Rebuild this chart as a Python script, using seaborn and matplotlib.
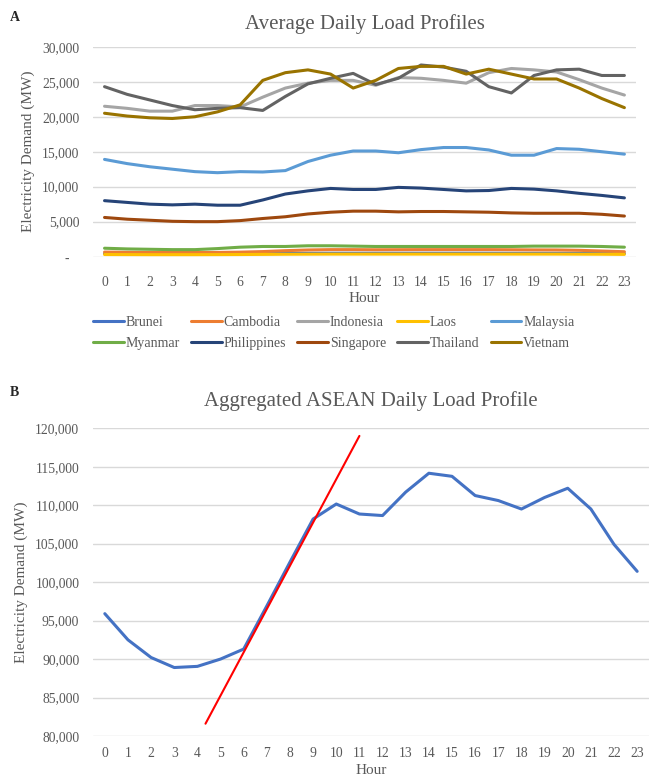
import numpy as np
import pandas as pd
import seaborn as sns
import matplotlib.pyplot as plt
from matplotlib.ticker import FuncFormatter

# ---- data ----
hours = list(range(24))
countries = ['Brunei', 'Cambodia', 'Indonesia', 'Laos', 'Malaysia',
             'Myanmar', 'Philippines', 'Singapore', 'Thailand', 'Vietnam']

brunei = [420, 410, 400, 400, 400, 400, 410, 430, 450, 470, 480, 480,
          480, 480, 480, 480, 480, 480, 470, 470, 470, 460, 450, 440]
cambodia = [650, 620, 600, 590, 590, 600, 640, 720, 850, 950, 1000, 1000,
            980, 990, 1000, 1000, 1000, 1000, 980, 960, 950, 900, 800, 700]
indonesia = [21500, 21200, 20800, 20800, 21600, 21600, 21400, 22800, 24100, 24800, 25200, 25200,
             24500, 25600, 25500, 25200, 24800, 26300, 26900, 26700, 26400, 25300, 24100, 23100]
laos = [300, 290, 280, 280, 280, 290, 300, 320, 340, 350, 360, 360,
        360, 360, 360, 360, 360, 360, 360, 360, 360, 350, 340, 320]
malaysia = [13900, 13300, 12850, 12500, 12150, 12000, 12150, 12100, 12300, 13600, 14500, 15100,
            15100, 14850, 15300, 15600, 15600, 15250, 14500, 14500, 15450, 15350, 15000, 14650]
myanmar = [1200, 1100, 1050, 1000, 1000, 1150, 1350, 1450, 1450, 1550, 1550, 1500,
           1450, 1450, 1450, 1450, 1450, 1450, 1450, 1500, 1500, 1500, 1450, 1350]
philippines = [8000, 7750, 7500, 7400, 7500, 7350, 7350, 8100, 8950, 9400, 9750, 9600,
               9600, 9900, 9800, 9600, 9400, 9450, 9750, 9650, 9400, 9050, 8750, 8400]
singapore = [5600, 5350, 5200, 5050, 5000, 5000, 5150, 5450, 5700, 6100, 6350, 6500,
             6500, 6400, 6450, 6450, 6400, 6350, 6250, 6200, 6200, 6200, 6050, 5800]
thailand = [24300, 23200, 22400, 21600, 21000, 21200, 21300, 20900, 22900, 24700, 25500, 26200,
            24600, 25500, 27400, 27100, 26500, 24300, 23400, 25900, 26700, 26800, 25900, 25900]
vietnam = [20500, 20100, 19850, 19750, 20000, 20700, 21700, 25200, 26300, 26700, 26100, 24100,
           25200, 26900, 27200, 27200, 26100, 26800, 26100, 25400, 25400, 24100, 22600, 21300]

asean_total = [95900, 92500, 90200, 88900, 89050, 90000, 91300, 96900, 102600, 108200, 110150, 108850,
               108650, 111700, 114150, 113750, 111250, 110600, 109500, 111000, 112200, 109500, 104900, 101400]

# red ramp line drawn over panel B (hour, MW at its two ends)
ramp_hours = [4.35, 11.0]
ramp_mw = [81600, 119000]

colors = ['#4472C4', '#ED7D31', '#A5A5A5', '#FFC000', '#5B9BD5',
          '#70AD47', '#264478', '#9E480E', '#636363', '#997300']

series = [brunei, cambodia, indonesia, laos, malaysia,
          myanmar, philippines, singapore, thailand, vietnam]
profiles = pd.DataFrame({'Hour': np.tile(hours, len(countries)),
                         'Country': np.repeat(countries, 24),
                         'MW': np.concatenate(series)})
total = pd.DataFrame({'Hour': hours, 'MW': asean_total})

# ---- style ----
sns.set_style('white')
plt.rcParams['font.family'] = ['Liberation Serif', 'DejaVu Serif']
txt = '#595959'
grid = '#d9d9d9'

fig = plt.figure(figsize=(6.52, 7.8), dpi=100)
ax1 = fig.add_axes([0.143, 0.671, 0.832, 0.269])
ax2 = fig.add_axes([0.143, 0.0564, 0.852, 0.3946])

# accounting style: zero shown as a dash set in from the right
fmt = FuncFormatter(lambda v, p: '-   ' if v == 0 else f'{v:,.0f}')

# panel A
sns.lineplot(data=profiles, x='Hour', y='MW', hue='Country', hue_order=countries,
             palette=colors, linewidth=2.2, ax=ax1)
handles, labels = ax1.get_legend_handles_labels()
ax1.get_legend().remove()
# legend fills by column, so interleave to get rows like the original
order = [0, 5, 1, 6, 2, 7, 3, 8, 4, 9]
fig.legend([handles[i] for i in order], [labels[i] for i in order],
           ncol=5, loc='upper center', bbox_to_anchor=(0.512, 0.611),
           frameon=False, fontsize=10, labelcolor=txt, handlelength=2.2,
           handletextpad=0.15, columnspacing=0.8, labelspacing=0.55)
ax1.set_ylim(0, 30000)
ax1.set_yticks(range(0, 30001, 5000))
ax1.set_title('Average Daily Load Profiles', fontsize=15, color=txt, pad=13)
ax1.tick_params(axis='x', pad=14)
ax1.set_xlabel('Hour', fontsize=11, color=txt, labelpad=2)

# panel B
sns.lineplot(data=total, x='Hour', y='MW', color='#4472C4', linewidth=2.2, ax=ax2)
ax2.plot(ramp_hours, ramp_mw, color='#FF0000', linewidth=1.5)
ax2.set_ylim(80000, 120000)
ax2.set_yticks(range(80000, 120001, 5000))
ax2.set_title('Aggregated ASEAN Daily Load Profile', fontsize=15, color=txt, pad=16)
ax2.tick_params(axis='x', pad=8)
ax2.set_xlabel('Hour', fontsize=11, color=txt, labelpad=3)

for ax in (ax1, ax2):
    ax.set_xlim(-0.5, 23.5)
    ax.set_xticks(hours)
    ax.yaxis.set_major_formatter(fmt)
    ax.grid(axis='y', color=grid, linewidth=1)
    ax.set_axisbelow(True)
    for s in ax.spines.values():
        s.set_visible(False)
    ax.tick_params(length=0, labelsize=9.8, labelcolor=txt)
    ax.tick_params(axis='y', pad=10)
    ax.set_ylabel('Electricity Demand (MW)', fontsize=11, color=txt, labelpad=5)

fig.text(0.015, 0.978, 'A', fontsize=10, fontweight='bold', va='center')
fig.text(0.015, 0.497, 'B', fontsize=10, fontweight='bold', va='center')

fig.savefig('out.png', dpi=100)
